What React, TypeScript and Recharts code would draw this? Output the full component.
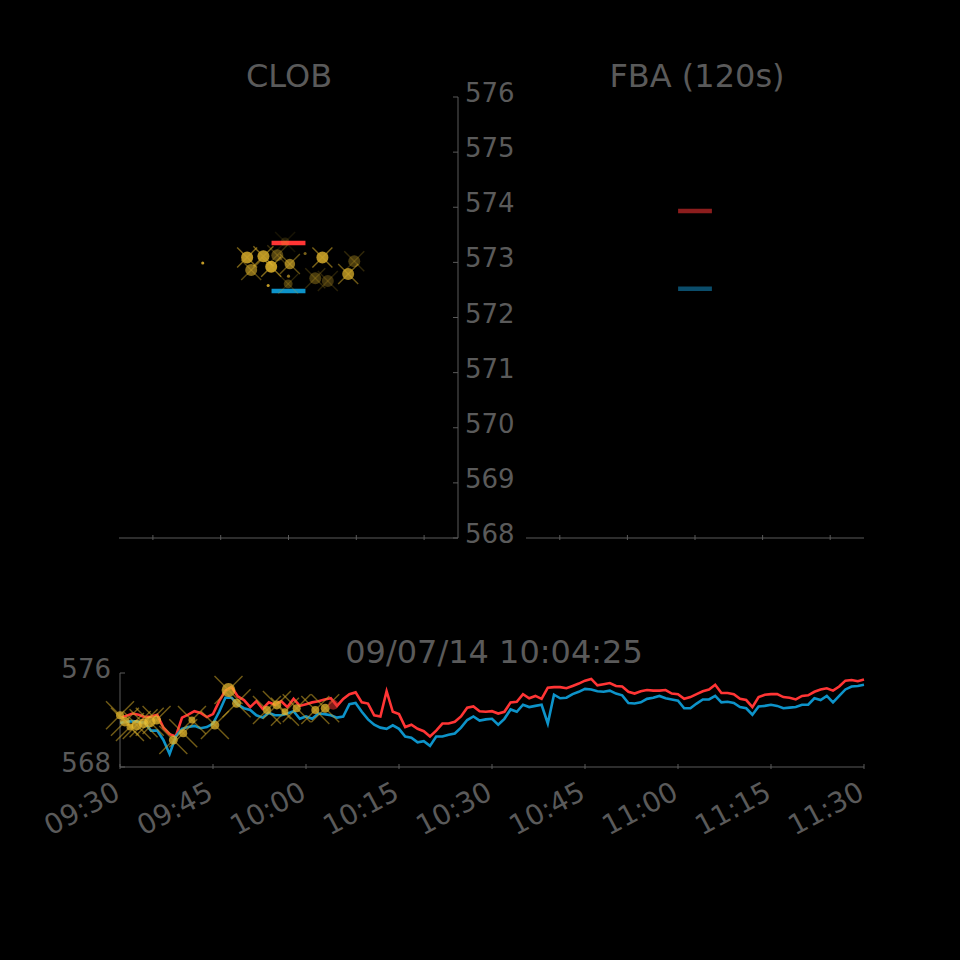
import React from "react";
import { ComposedChart, Line, Scatter, XAxis, YAxis } from "recharts";

const FONT = "'DejaVu Sans', sans-serif";
const INK = "#5a5a5a";
const AXIS = "#5a5a5a";
const GOLD = "#f2c230";
const CROSS = "#c9a227";

// price scale shared by every panel
const priceTicks = [568, 569, 570, 571, 572, 573, 574, 575, 576];

// order book panels (horizontal units are arbitrary)
const bookTicks = [1, 3, 5, 7, 9];
const quoteSpan = [4.5, 5.5];
const clobAsk = 573.35;
const clobBid = 572.48;
const fbaAsk = 573.93;
const fbaBid = 572.52;

// recent CLOB trades around the snapshot
const clobPos = [3.78, 4.26, 4.67, 3.9, 4.49, 5.04, 4.99, 5.79, 6.16, 6.0, 6.94, 6.76, 4.9, 2.47, 4.4, 5.0, 5.49];
const clobPx = [573.09, 573.11, 573.13, 572.86, 572.92, 572.97, 572.61, 572.71, 572.66, 573.09, 573.02, 572.79, 573.37, 572.99, 572.58, 572.75, 573.16];
const clobQty = [900, 900, 900, 900, 900, 700, 500, 900, 900, 900, 900, 900, 500, 60, 60, 60, 60];
const clobAge = [40, 40, 200, 120, 20, 100, 220, 220, 240, 40, 220, 70, 280, 20, 20, 100, 140]; // seconds

// quotes, one per minute from 09:30 to 11:30
const timeTicks = [0, 15, 30, 45, 60, 75, 90, 105, 120];
const timeLabels = ["09:30", "09:45", "10:00", "10:15", "10:30", "10:45", "11:00", "11:15", "11:30"];
const askPx = [
  572.2, 572.35, 572.55, 572.45, 572.25, 572.3, 572.45, 571.35, 570.8, 570.6,
  572.2, 572.45, 572.75, 572.6, 572.25, 572.5, 573.6, 574.5, 574.8, 574.0,
  573.7, 573.1, 573.6, 572.95, 573.5, 573.3, 573.6, 573.1, 573.8, 573.2,
  573.35, 573.5, 573.6, 573.75, 573.85, 573.2, 573.8, 574.2, 574.35, 573.5,
  573.4, 572.4, 572.3, 574.45, 572.7, 572.5, 571.4, 571.6, 571.25, 571.05,
  570.6, 571.1, 571.7, 571.7, 571.85, 572.3, 573.05, 573.15, 572.75, 572.7,
  572.75, 572.55, 572.7, 573.5, 573.55, 574.2, 573.85, 574.05, 573.8, 574.75,
  574.8, 574.8, 574.7, 574.9, 575.1, 575.35, 575.5, 574.95, 575.05, 575.15,
  574.9, 574.85, 574.4, 574.25, 574.45, 574.55, 574.5, 574.5, 574.55, 574.25,
  574.2, 573.8, 573.95, 574.2, 574.45, 574.6, 575.0, 574.3, 574.3, 574.2,
  573.8, 573.7, 573.1, 573.95, 574.15, 574.2, 574.2, 573.95, 573.9, 573.75,
  574.05, 574.1, 574.4, 574.6, 574.7, 574.5, 574.85, 575.35, 575.4, 575.3, 575.45,
];
const bidPx = [
  571.75, 571.85, 571.9, 571.85, 571.75, 571.1, 571.1, 570.3, 569.1, 570.6,
  571.25, 571.4, 571.5, 571.3, 571.4, 571.7, 572.7, 573.9, 573.9, 573.3,
  573.0, 572.85, 572.4, 572.2, 572.6, 572.4, 572.4, 572.55, 572.75, 572.1,
  572.3, 572.1, 572.55, 572.5, 572.4, 572.2, 572.3, 573.35, 573.45, 572.7,
  572.05, 571.6, 571.35, 571.25, 571.55, 571.25, 570.6, 570.5, 570.1, 570.2,
  569.8, 570.6, 570.6, 570.75, 570.85, 571.35, 572.0, 572.3, 571.95, 572.05,
  572.1, 571.6, 572.1, 572.9, 572.7, 573.3, 573.1, 573.2, 573.3, 571.7,
  574.15, 573.85, 573.9, 574.2, 574.4, 574.65, 574.6, 574.45, 574.4, 574.5,
  574.25, 574.1, 573.45, 573.4, 573.5, 573.8, 573.9, 574.05, 573.85, 573.75,
  573.65, 573.0, 573.0, 573.4, 573.75, 573.75, 574.05, 573.5, 573.55, 573.45,
  573.1, 573.0, 572.45, 573.15, 573.2, 573.3, 573.2, 573.0, 573.05, 573.1,
  573.3, 573.3, 573.85, 573.7, 574.05, 573.5, 574.05, 574.6, 574.85, 574.9, 575.0,
];

// trades printed on the time series
const tradeMin = [0.0, 0.8, 1.6, 2.7, 3.8, 4.8, 5.9, 8.6, 10.2, 11.6, 15.3, 17.5, 18.8, 23.7, 25.3, 26.6, 28.5, 31.5, 33.1];
const tradePx = [572.4, 571.86, 571.4, 571.57, 571.72, 571.86, 572.0, 570.3, 570.87, 572.0, 571.57, 574.55, 573.42, 572.85, 573.28, 572.7, 573.0, 572.85, 573.0];
const tradeQty = [400, 600, 300, 700, 600, 800, 500, 500, 400, 300, 500, 1200, 500, 400, 500, 300, 400, 400, 500];
const nowMin = 34.4;
const nowPx = 573.3;
const snapshotLabel = "09/07/14 10:04:25";

const clobTrades = clobPos.map((x, i) => ({ x, y: clobPx[i], qty: clobQty[i], age: clobAge[i] }));
const clobAskSeg = quoteSpan.map((x) => ({ x, y: clobAsk }));
const clobBidSeg = quoteSpan.map((x) => ({ x, y: clobBid }));
const fbaAskSeg = quoteSpan.map((x) => ({ x, y: fbaAsk }));
const fbaBidSeg = quoteSpan.map((x) => ({ x, y: fbaBid }));
const quotes = askPx.map((a, i) => ({ t: i, ask: a, bid: bidPx[i] }));
const trades = tradeMin.map((t, i) => ({ t, px: tradePx[i], qty: tradeQty[i] }));
const nowMark = [{ t: nowMin, px: nowPx }];

function tradeMark(arm: number, fixedAlpha?: number) {
  return (props: any) => {
    const { cx, cy, payload } = props;
    const r = 2 * Math.sqrt(payload.qty / 100);
    const o = fixedAlpha ?? Math.max(0.12, 0.85 - payload.age / 400);
    const big = payload.qty >= 200;
    return (
      <g>
        <circle cx={cx} cy={cy} r={r} fill={GOLD} fillOpacity={o} />
        {big && (
          <g stroke={CROSS} strokeOpacity={o * 0.8} strokeWidth={1.4}>
            <line x1={cx - arm} y1={cy - arm} x2={cx + arm} y2={cy + arm} />
            <line x1={cx - arm} y1={cy + arm} x2={cx + arm} y2={cy - arm} />
          </g>
        )}
      </g>
    );
  };
}

const nowShape = (props: any) => (
  <circle cx={props.cx} cy={props.cy} r={5} fill="#e0332e" fillOpacity={0.55} />
);

function InTickX({ x, y }: any) {
  return <line x1={x} y1={y - 5} x2={x} y2={y} stroke={AXIS} />;
}

function RightPriceTick({ x, y, payload }: any) {
  return (
    <g>
      <line x1={x - 5} y1={y} x2={x} y2={y} stroke={AXIS} />
      <text x={x + 7} y={y + 5} fill={INK} fontSize={26} fontFamily={FONT}>
        {payload.value}
      </text>
    </g>
  );
}

function LeftPriceTick({ x, y, payload }: any) {
  return (
    <g>
      <line x1={x} y1={y} x2={x + 5} y2={y} stroke={AXIS} />
      <text x={x - 9} y={y + 5} fill={INK} fontSize={26} fontFamily={FONT} textAnchor="end">
        {payload.value}
      </text>
    </g>
  );
}

function TimeTick({ x, y, payload }: any) {
  const label = timeLabels[timeTicks.indexOf(payload.value)];
  return (
    <g>
      <line x1={x} y1={y - 5} x2={x} y2={y} stroke={AXIS} />
      <text
        transform={`translate(${x + 2},${y + 29}) rotate(-28)`}
        textAnchor="end"
        fill={INK}
        fontSize={28}
        fontFamily={FONT}
      >
        {label}
      </text>
    </g>
  );
}

function Title({ text, cx, cy }: { text: string; cx: number; cy: number }) {
  return (
    <div
      style={{
        position: "absolute",
        left: cx - 250,
        top: cy - 15,
        width: 500,
        textAlign: "center",
        fontFamily: FONT,
        fontSize: 32,
        lineHeight: "32px",
        color: INK,
        whiteSpace: "nowrap",
      }}
    >
      {text}
    </div>
  );
}

export default function App() {
  return (
    <div style={{ position: "absolute", left: 0, top: 0, width: 960, height: 960, background: "#000", overflow: "hidden" }}>
      <Title text="CLOB" cx={289} cy={75} />
      <Title text="FBA (120s)" cx={697} cy={75} />
      <Title text={snapshotLabel} cx={494} cy={651} />

      <div style={{ position: "absolute", left: 0, top: 0 }}>
        <ComposedChart width={560} height={560} margin={{ top: 97, left: 119, right: 32, bottom: 12 }}>
          <XAxis
            type="number"
            dataKey="x"
            domain={[0, 10]}
            ticks={bookTicks}
            height={10}
            tickSize={0}
            tick={<InTickX />}
            axisLine={{ stroke: AXIS }}
          />
          <YAxis
            type="number"
            dataKey="y"
            orientation="right"
            domain={[568, 576]}
            ticks={priceTicks}
            width={70}
            tickSize={0}
            tickMargin={0}
            tick={<RightPriceTick />}
            axisLine={{ stroke: AXIS }}
          />
          <Scatter data={clobTrades} dataKey="y" shape={tradeMark(10)} isAnimationActive={false} />
          <Line data={clobAskSeg} dataKey="y" stroke="#ff3535" strokeWidth={4.5} strokeLinecap="butt" dot={false} isAnimationActive={false} />
          <Line data={clobBidSeg} dataKey="y" stroke="#0d93c9" strokeWidth={4.5} strokeLinecap="butt" dot={false} isAnimationActive={false} />
        </ComposedChart>
      </div>

      <div style={{ position: "absolute", left: 500, top: 0 }}>
        <ComposedChart width={400} height={560} margin={{ top: 97, left: 26, right: 36, bottom: 12 }}>
          <XAxis
            type="number"
            dataKey="x"
            domain={[0, 10]}
            ticks={bookTicks}
            height={10}
            tickSize={0}
            tick={<InTickX />}
            axisLine={{ stroke: AXIS }}
          />
          <YAxis type="number" dataKey="y" domain={[568, 576]} width={0} tick={false} tickLine={false} axisLine={{ stroke: AXIS }} />
          <Line data={fbaAskSeg} dataKey="y" stroke="#8c1d1d" strokeWidth={4.5} strokeLinecap="butt" dot={false} isAnimationActive={false} />
          <Line data={fbaBidSeg} dataKey="y" stroke="#0b4d6b" strokeWidth={4.5} strokeLinecap="butt" dot={false} isAnimationActive={false} />
        </ComposedChart>
      </div>

      <div style={{ position: "absolute", left: 0, top: 600 }}>
        <ComposedChart width={960} height={260} data={quotes} margin={{ top: 73, left: 60, right: 96, bottom: 33 }}>
          <XAxis
            type="number"
            dataKey="t"
            domain={[0, 120]}
            ticks={timeTicks}
            height={60}
            tickSize={0}
            tick={<TimeTick />}
            axisLine={{ stroke: AXIS }}
          />
          <YAxis
            type="number"
            domain={[568, 576]}
            ticks={[568, 576]}
            width={60}
            tickSize={0}
            tickMargin={0}
            tick={<LeftPriceTick />}
            axisLine={{ stroke: AXIS }}
          />
          <YAxis yAxisId="edge" orientation="right" domain={[568, 576]} width={0} tick={false} tickLine={false} axisLine={{ stroke: AXIS }} />
          <Line dataKey="ask" stroke="#ff3535" strokeWidth={2.6} dot={false} isAnimationActive={false} />
          <Line dataKey="bid" stroke="#0d93c9" strokeWidth={2.6} dot={false} isAnimationActive={false} />
          <Scatter data={trades} dataKey="px" shape={tradeMark(14, 0.7)} isAnimationActive={false} />
          <Scatter data={nowMark} dataKey="px" shape={nowShape} isAnimationActive={false} />
        </ComposedChart>
      </div>
    </div>
  );
}
